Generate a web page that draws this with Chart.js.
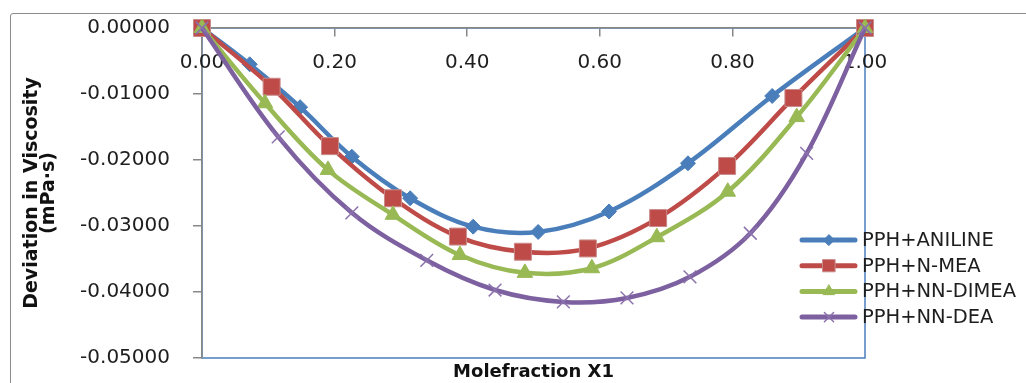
<!DOCTYPE html>
<html>
<head>
<meta charset="utf-8">
<script src="https://cdn.jsdelivr.net/npm/chart.js@4.4.1/dist/chart.umd.min.js"></script>
<style>
  html, body { margin: 0; padding: 0; background: #fff; }
  #wrap { position: relative; width: 1026px; height: 383px; overflow: hidden; }
  #frame { position: absolute; left: 10px; top: 13px; width: 1040px; height: 420px; border: 1.5px solid #8c8c8c; border-radius: 3px; }
  canvas { position: absolute; left: 0; top: 0; }
</style>
</head>
<body>
<div id="wrap">
  <div id="frame"></div>
  <canvas id="chart" width="1026" height="383"></canvas>
</div>
<script>
const seriesNames = ["PPH+ANILINE", "PPH+N-MEA", "PPH+NN-DIMEA", "PPH+NN-DEA"];

const anilineX = [0, 0.072, 0.148, 0.226, 0.314, 0.409, 0.507, 0.614, 0.733, 0.860, 1.00];
const anilineY = [0, -0.0055, -0.0120, -0.0195, -0.0258, -0.0301, -0.0309, -0.0278, -0.0205, -0.0103, 0];

const nmeaX = [0, 0.105, 0.193, 0.288, 0.386, 0.484, 0.582, 0.688, 0.792, 0.892, 1.00];
const nmeaY = [0, -0.0089, -0.0179, -0.0258, -0.0316, -0.0339, -0.0334, -0.0288, -0.0209, -0.0106, 0];

const dimeaX = [0, 0.095, 0.190, 0.288, 0.389, 0.487, 0.588, 0.686, 0.793, 0.897, 1.00];
const dimeaY = [0, -0.0114, -0.0215, -0.0283, -0.0344, -0.0371, -0.0364, -0.0317, -0.0248, -0.0135, 0];

const deaX = [0, 0.115, 0.226, 0.339, 0.442, 0.545, 0.641, 0.736, 0.827, 0.912, 1.00];
const deaY = [0, -0.0165, -0.0280, -0.0352, -0.0397, -0.0415, -0.0409, -0.0377, -0.0311, -0.0190, 0];

const xTicks = [0, 0.2, 0.4, 0.6, 0.8, 1.0];
const yTicks = [0, -0.01, -0.02, -0.03, -0.04, -0.05];

const FONT = '"DejaVu Sans", sans-serif';
const AXIS_GREY = "#878787";

function toPoints(xs, ys) {
  return xs.map((x, i) => ({ x: x, y: ys[i] }));
}

const styles = [
  { color: "#4a7ebb", point: "rectRot", radius: 7.5, pointBorder: "#4a7ebb", pointWidth: 1 },
  { color: "#be4b48", point: "rect", radius: 12, pointBorder: "#c98b89", pointWidth: 1 },
  { color: "#98b954", point: "triangle", radius: 9, pointBorder: "#98b954", pointWidth: 1 },
  { color: "#7d60a0", point: "crossRot", radius: 9, pointBorder: "#8b72ad", pointWidth: 1.5 }
];

const allData = [
  toPoints(anilineX, anilineY),
  toPoints(nmeaX, nmeaY),
  toPoints(dimeaX, dimeaY),
  toPoints(deaX, deaY)
];

const datasets = seriesNames.map((name, i) => ({
  label: name,
  data: allData[i],
  borderColor: styles[i].color,
  backgroundColor: styles[i].color,
  borderWidth: 4.5,
  tension: 0.35,
  pointStyle: styles[i].point,
  pointRadius: styles[i].radius,
  pointHoverRadius: styles[i].radius,
  pointBackgroundColor: styles[i].color,
  pointBorderColor: styles[i].pointBorder,
  pointBorderWidth: styles[i].pointWidth,
  clip: false,
  order: seriesNames.length - 1 - i // later series on top, like Excel
}));

// blue plot-area frame (drawn first so the grey axis lines sit on top)
const plotFrame = {
  id: "plotFrame",
  beforeDraw(chart) {
    const { ctx, chartArea: a } = chart;
    ctx.save();
    ctx.strokeStyle = "#4a7ebb";
    ctx.lineWidth = 1.5;
    ctx.strokeRect(a.left, a.top, a.right - a.left, a.bottom - a.top);
    ctx.restore();
  }
};

// x tick labels sit below the top axis line, inside the plot
const xLabels = {
  id: "xLabels",
  beforeDatasetsDraw(chart) {
    const { ctx, chartArea: a } = chart;
    const sx = chart.scales.x;
    ctx.save();
    ctx.fillStyle = "#1e1e1e";
    ctx.font = "20px " + FONT;
    ctx.textAlign = "center";
    ctx.textBaseline = "middle";
    xTicks.forEach(v => {
      ctx.fillText(v.toFixed(2), sx.getPixelForValue(v), a.top + 35);
    });
    ctx.restore();
  }
};

// legend sitting over the right edge of the plot
const sideLegend = {
  id: "sideLegend",
  afterDraw(chart) {
    const { ctx, chartArea: a } = chart;
    const x0 = a.right - 63;
    const y0 = a.top + 212;
    const step = 25.7;
    chart.data.datasets.forEach((ds, i) => {
      const y = y0 + i * step;
      ctx.save();
      ctx.strokeStyle = ds.borderColor;
      ctx.lineWidth = 5;
      ctx.lineCap = "round";
      ctx.beginPath();
      ctx.moveTo(x0, y);
      ctx.lineTo(x0 + 53, y);
      ctx.stroke();
      ctx.fillStyle = ds.pointBackgroundColor;
      ctx.strokeStyle = ds.pointBorderColor;
      ctx.lineWidth = ds.pointBorderWidth;
      Chart.helpers.drawPoint(ctx, {
        pointStyle: ds.pointStyle,
        radius: ds.pointRadius * 0.72,
        borderWidth: ds.pointBorderWidth,
        rotation: 0
      }, x0 + 27, y);
      ctx.fillStyle = "#1e1e1e";
      ctx.font = "19.5px " + FONT;
      ctx.textBaseline = "middle";
      ctx.textAlign = "left";
      ctx.fillText(ds.label, x0 + 60, y + 1);
      ctx.restore();
    });
  }
};

const ctx = document.getElementById("chart").getContext("2d");

new Chart(ctx, {
  type: "line",
  data: { datasets: datasets },
  options: {
    responsive: false,
    animation: false,
    layout: { padding: { left: 10, top: 28, right: 161, bottom: 0 } },
    plugins: {
      legend: { display: false },
      tooltip: { enabled: false }
    },
    scales: {
      x: {
        type: "linear",
        min: 0,
        max: 1,
        position: { y: 0 },
        afterBuildTicks: (s) => { s.ticks = xTicks.map(v => ({ value: v })); },
        ticks: { display: false },
        grid: { drawOnChartArea: false, tickLength: 8, color: AXIS_GREY, lineWidth: 1.5 },
        border: { color: AXIS_GREY, width: 1.5 },
        afterFit: (s) => { s.paddingLeft = 0; s.paddingRight = 0; }
      },
      x2: {
        type: "linear",
        min: 0,
        max: 1,
        position: "bottom",
        ticks: { display: false },
        grid: { display: false },
        border: { display: false },
        title: {
          display: true,
          text: "Molefraction X1",
          color: "#111",
          font: { family: FONT, size: 18, weight: "bold" },
          padding: { top: 3, bottom: 0 }
        },
        afterFit: (s) => { s.height = 25; s.paddingLeft = 0; s.paddingRight = 0; }
      },
      y: {
        type: "linear",
        min: -0.05,
        max: 0,
        position: "left",
        afterBuildTicks: (s) => { s.ticks = yTicks.map(v => ({ value: v })); },
        ticks: {
          padding: 23,
          color: "#1e1e1e",
          font: { family: FONT, size: 20 },
          callback: (v) => Number(v).toFixed(5)
        },
        grid: { drawOnChartArea: false, tickLength: 9, color: AXIS_GREY, lineWidth: 1.5 },
        border: { color: AXIS_GREY, width: 1.5 },
        title: {
          display: true,
          text: ["Deviation in Viscosity", "(mPa·s)"],
          color: "#111",
          font: { family: FONT, size: 19, weight: "bold", lineHeight: 0.92 },
          padding: { top: 13, bottom: 0 }
        },
        afterFit: (s) => { s.width = 192; s.paddingTop = 0; s.paddingBottom = 0; }
      }
    }
  },
  plugins: [plotFrame, xLabels, sideLegend]
});
</script>
</body>
</html>
